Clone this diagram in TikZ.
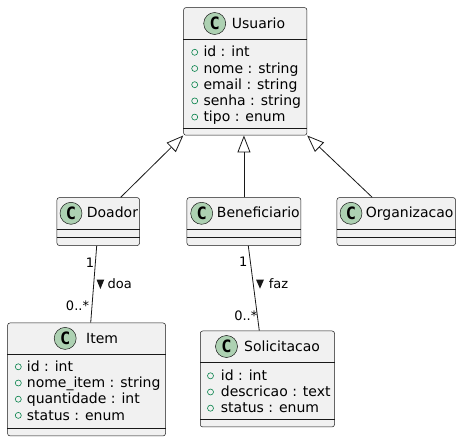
\documentclass[tikz,border=0pt]{standalone}
\usepackage{fontspec}
\setmainfont{DejaVu Sans}
\newfontfamily\monob{DejaVu Sans Mono}
\usetikzlibrary{arrows.meta,calc}
\definecolor{boxfill}{HTML}{F1F1F1}
\definecolor{linec}{HTML}{181818}
\definecolor{circfill}{HTML}{ADD1B2}
\definecolor{pubc}{HTML}{038048}
\tikzset{
 cls/.style={draw=linec, fill=boxfill, line width=0.5pt, rounded corners=2.5pt, inner sep=0pt, anchor=north west},
 sepl/.style={draw=linec, line width=0.5pt},
 cbadge/.style={circle, draw=linec, fill=circfill, line width=0.5pt, minimum size=22pt, inner sep=0pt, font=\monob\bfseries\fontsize{17}{17}\selectfont},
 cname/.style={anchor=base west, inner sep=0pt, font=\fontsize{14}{16}\selectfont},
 attr/.style={anchor=base west, inner sep=0pt, font=\fontsize{14}{16}\selectfont},
 pub/.style={circle, draw=pubc, line width=0.6pt, minimum size=6pt, inner sep=0pt},
 lbl/.style={inner sep=0pt, font=\fontsize{13}{15}\selectfont},
 conn/.style={draw=linec, line width=0.8pt},
 ext/.style={conn, -{Triangle[open, length=17pt, width=13pt]}},
}
\begin{document}
\begin{tikzpicture}[x=1pt,y=-1pt]
\useasboundingbox[fill=white] (0,0) rectangle (461,441);

% ---------- Usuario ----------
\node[cls, minimum width=123.4pt, minimum height=127.7pt] (usuario) at (183.3,7.3) {};
\draw[sepl] ($(usuario.north west)+(0,31.5)$) -- ($(usuario.north east)+(0,31.5)$);
\draw[sepl] ($(usuario.south west)+(0,-7.7)$) -- ($(usuario.south east)+(0,-7.7)$);
\node[cbadge] (usuarioC) at (214.7,23.5) {C};
\node[cname] (usuarioN) at (231.7,28.1) {Usuario};
\node[pub] (u1i) at (194.7,52.3) {};  \node[attr] (u1) at (203.3,56.9) {id : int};
\node[pub] (u2i) at (194.7,68.5) {};  \node[attr] (u2) at (203.3,73.1) {nome : string};
\node[pub] (u3i) at (194.7,84.7) {};  \node[attr] (u3) at (203.3,89.3) {email : string};
\node[pub] (u4i) at (194.7,100.9) {}; \node[attr] (u4) at (203.3,105.5) {senha : string};
\node[pub] (u5i) at (194.7,117.1) {}; \node[attr] (u5) at (203.3,121.7) {tipo : enum};

% ---------- Doador ----------
\node[cls, minimum width=82.6pt, minimum height=48pt] (doador) at (56.7,197.3) {};
\draw[sepl] ($(doador.north west)+(0,32)$) -- ($(doador.north east)+(0,32)$);
\draw[sepl] ($(doador.north west)+(0,40)$) -- ($(doador.north east)+(0,40)$);
\node[cbadge] (doadorC) at (71,213.3) {C};
\node[cname] (doadorN) at (86.7,217.9) {Doador};

% ---------- Beneficiario ----------
\node[cls, minimum width=114pt, minimum height=48pt] (benef) at (186.7,197.3) {};
\draw[sepl] ($(benef.north west)+(0,32)$) -- ($(benef.north east)+(0,32)$);
\draw[sepl] ($(benef.north west)+(0,40)$) -- ($(benef.north east)+(0,40)$);
\node[cbadge] (benefC) at (201.7,213.3) {C};
\node[cname] (benefN) at (216.7,217.9) {Beneficiario};

% ---------- Organizacao ----------
\node[cls, minimum width=118.6pt, minimum height=48pt] (org) at (336.7,197.3) {};
\draw[sepl] ($(org.north west)+(0,32)$) -- ($(org.north east)+(0,32)$);
\draw[sepl] ($(org.north west)+(0,40)$) -- ($(org.north east)+(0,40)$);
\node[cbadge] (orgC) at (351,213.3) {C};
\node[cname] (orgN) at (365.7,217.9) {Organizacao};

% ---------- Item ----------
\node[cls, minimum width=158pt, minimum height=113pt] (item) at (7.3,322.7) {};
\draw[sepl] ($(item.north west)+(0,31.3)$) -- ($(item.north east)+(0,31.3)$);
\draw[sepl] ($(item.south west)+(0,-8.4)$) -- ($(item.south east)+(0,-8.4)$);
\node[cbadge] (itemC) at (65.2,338.4) {C};
\node[cname] (itemN) at (86,343) {Item};
\node[pub] (i1i) at (18.3,366.8) {}; \node[attr] (i1) at (26.7,371.4) {id : int};
\node[pub] (i2i) at (18.3,383) {};   \node[attr] (i2) at (26.7,387.6) {nome\_item : string};
\node[pub] (i3i) at (18.3,399.2) {}; \node[attr] (i3) at (26.7,403.8) {quantidade : int};
\node[pub] (i4i) at (18.3,415.4) {}; \node[attr] (i4) at (26.7,420) {status : enum};

% ---------- Solicitacao ----------
\node[cls, minimum width=134.3pt, minimum height=96pt] (solic) at (200,330.7) {};
\draw[sepl] ($(solic.north west)+(0,31.6)$) -- ($(solic.north east)+(0,31.6)$);
\draw[sepl] ($(solic.south west)+(0,-7.7)$) -- ($(solic.south east)+(0,-7.7)$);
\node[cbadge] (solicC) at (226.5,346.5) {C};
\node[cname] (solicN) at (244,351.1) {Solicitacao};
\node[pub] (s1i) at (210.5,375.8) {}; \node[attr] (s1) at (220.7,380.4) {id : int};
\node[pub] (s2i) at (210.5,392) {};   \node[attr] (s2) at (220.7,396.6) {descricao : text};
\node[pub] (s3i) at (210.5,408.2) {}; \node[attr] (s3) at (220.7,412.8) {status : enum};

% ---------- Inheritance ----------
\draw[ext] ($(doador.north west)+(64,0)$) -- (usuario.south west);
\draw[ext] (benef.north) -- (benef.north |- usuario.south);
\draw[ext] ($(org.north west)+(35.5,0)$) -- (usuario.south east);

% ---------- Associations ----------
\draw[conn] ($(doador.south west)+(40,0)$) -- ($(item.north west)+(83.4,0)$);
\draw[conn] ($(benef.south west)+(61.6,0)$) -- ($(solic.north west)+(59.3,0)$);

\node[lbl] (m1) at (90,262.5) {1};
\node[lbl] (m2) at (77.5,305.5) {0..*};
\fill[linec] (96.5,279.5) -- (104.3,279.5) -- (100.4,289) -- cycle;
\node[lbl] (doaL) at (119.7,284) {doa};

\node[lbl] (m3) at (243.3,261.7) {1};
\node[lbl] (m4) at (245.8,315.8) {0..*};
\fill[linec] (256,279.5) -- (264,279.5) -- (260,288.7) -- cycle;
\node[lbl] (fazL) at (278.5,283.3) {faz};
\end{tikzpicture}
\end{document}
